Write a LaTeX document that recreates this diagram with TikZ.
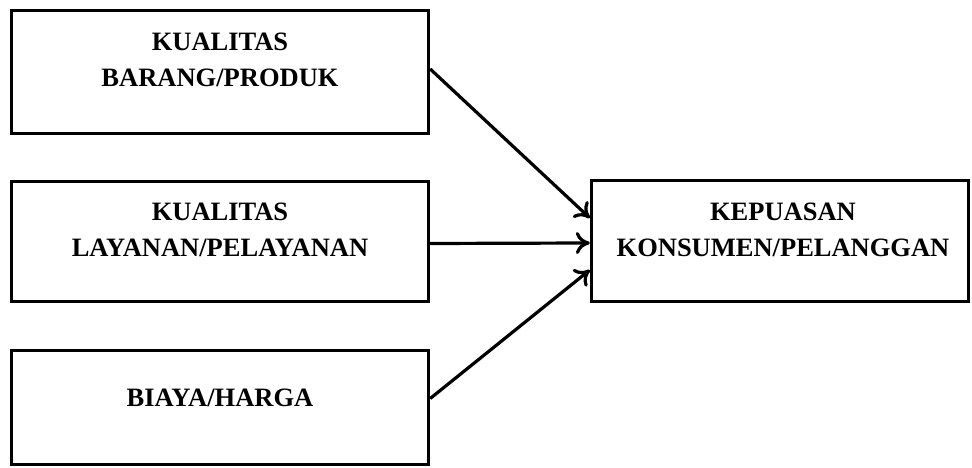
\documentclass[tikz,border=0pt]{standalone}
\usepackage{fontspec}
\setmainfont{Liberation Serif}
\usetikzlibrary{arrows.meta,calc}
\begin{document}
\begin{tikzpicture}[x=1pt,y=1pt,
  box/.style={draw=black,line width=3.4pt,fill=white,inner sep=0pt},
  lbl/.style={font=\bfseries\fontsize{26.5}{36}\selectfont,align=center,anchor=base,inner sep=0pt},
  arr/.style={line width=3.2pt,-{To[length=14pt,width=22pt,line width=3.2pt]}}]
\useasboundingbox (0,0) rectangle (972,468);
\fill[white] (0,0) rectangle (972,468);
% boxes
\node[box,minimum width=417pt,minimum height=123pt] (b1) at (220,396) {};
\node[box,minimum width=417pt,minimum height=120pt] (b2) at (220,226.5) {};
\node[box,minimum width=417pt,minimum height=114pt] (b3) at (220,60.5) {};
\node[box,minimum width=377pt,minimum height=121pt] (kp) at (780,227) {};
% labels
\node[lbl] (t1) at (220,381) {KUALITAS\\BARANG/PRODUK};
\node[lbl] (t2) at (220,211) {KUALITAS\\LAYANAN/PELAYANAN};
\node[lbl] (t3) at (220,61) {BIAYA/HARGA};
\node[lbl] (t4) at (783,211) {KEPUASAN\\KONSUMEN/PELANGGAN};
% arrows
\draw[arr] ($(b1.east)+(0,3)$) -- ($(kp.west)+(0,23)$);
\draw[arr] ($(b2.east)+(0,-2)$) -- ($(kp.west)+(0,-2)$);
\draw[arr] ($(b3.east)+(0,9)$) -- ($(kp.west)+(0,-29)$);
\end{tikzpicture}
\end{document}
